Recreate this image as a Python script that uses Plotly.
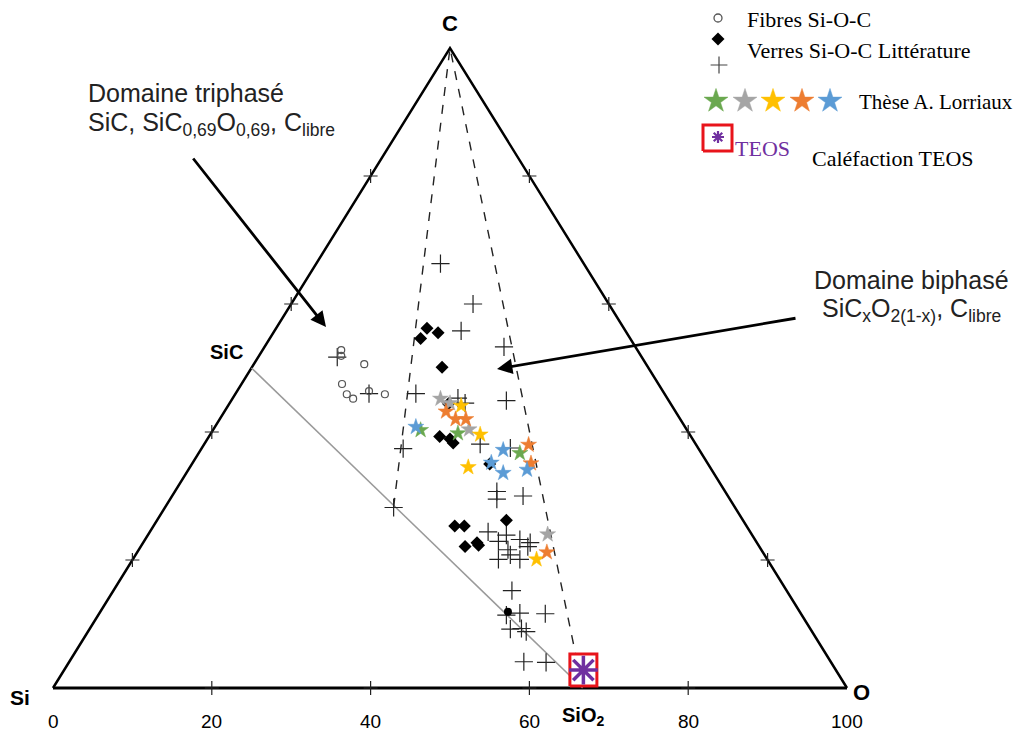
import plotly.graph_objects as go

# ---------------- data (x = position on the Si–O axis, 0..100 ; c = % C) -------------
tick_values = [0, 20, 40, 60, 80, 100]

fibres_x = [36.3, 36.3, 39.2, 36.4, 37.0, 37.8, 39.8, 41.8]
fibres_c = [52.8, 51.9, 50.6, 47.5, 45.9, 45.2, 46.4, 45.9]

verres_x = [47.1, 46.3, 48.5, 49.0, 49.8, 48.7, 50.0, 50.4, 55.0, 57.1, 50.6, 51.8, 51.9, 53.4, 53.6]
verres_c = [56.2, 54.6, 55.5, 50.1, 44.4, 39.3, 38.9, 38.3, 35.0, 26.2, 25.3, 25.3, 22.1, 22.7, 22.3]

dot_x = [57.3]
dot_c = [11.9]

lit_x = [48.8, 52.9, 51.4, 56.8, 35.8, 39.8, 45.7, 51.0, 51.9, 57.1, 53.8, 44.1, 57.6,
         55.9, 55.9, 59.2, 42.9, 54.8, 56.1, 57.1, 58.8, 60.1, 57.3, 59.8, 56.1, 57.6,
         58.8, 57.8, 57.1, 58.8, 62.0, 57.6, 59.0, 59.6, 59.3, 62.1]
lit_c = [66.3, 60.0, 55.8, 53.3, 51.7, 46.0, 46.0, 45.3, 44.5, 44.9, 38.1, 37.4, 37.5,
         30.7, 29.5, 30.0, 28.2, 24.4, 22.9, 23.9, 23.2, 22.7, 21.6, 22.1, 20.1, 20.8,
         20.1, 15.2, 11.4, 11.7, 11.6, 9.2, 9.3, 8.8, 4.1, 4.0]

stars_green_x = [46.3, 51.0, 58.8]
stars_green_c = [40.3, 39.8, 36.7]
stars_gray_x = [48.8, 50.0, 52.4, 62.3]
stars_gray_c = [45.2, 44.5, 40.4, 24.0]
stars_yellow_x = [51.4, 53.8, 52.3, 60.9]
stars_yellow_c = [44.1, 39.6, 34.5, 20.1]
stars_orange_x = [49.5, 50.7, 52.0, 59.9, 60.2, 62.2]
stars_orange_c = [43.2, 42.0, 42.0, 38.0, 35.1, 21.2]
stars_blue_x = [45.7, 56.7, 55.2, 56.7, 59.7]
stars_blue_c = [40.8, 37.2, 35.2, 33.6, 34.1]

teos_x = [66.8]
teos_c = [2.8]

# reference compositions (x, c)
corner_si = (0, 0)
corner_o = (100, 0)
corner_c = (50, 100)
pt_sic = (25, 50)
pt_sio2 = (66.7, 0)
pt_sico = (42.9, 28.3)

# ---------------- layout helpers (page pixel <-> diagram units) ----------------
PAGE_W, PAGE_H = 1025, 736
BODY = 8                      # default page margin around the plot div
W, H = PAGE_W - BODY, PAGE_H - BODY
PX0, PXU = 53.0, 7.94     # page pixel of x=0 and pixels per x unit
PY0, PYU = 688.0, 6.4     # page pixel of c=0 and pixels per c unit


def dx(px):
    return (px - PX0) / PXU


def dy(py):
    return (PY0 - py) / PYU


COL_GREEN, COL_GRAY, COL_YELLOW, COL_ORANGE, COL_BLUE = "#6aa84f", "#a5a5a5", "#ffc000", "#ed7d31", "#5b9bd5"
PURPLE = "#7030a0"
RED = "#e8141b"
SERIF = "Liberation Serif, Times New Roman, serif"
SANS = "Liberation Sans, Arial, sans-serif"
NARROW = "Liberation Sans Narrow, Arial Narrow, Liberation Sans, sans-serif"

fig = go.Figure()

# triangle
fig.add_trace(go.Scatter(x=[corner_si[0], corner_c[0], corner_o[0]], y=[corner_si[1], corner_c[1], corner_o[1]],
                         mode="lines", line=dict(color="black", width=2.5), hoverinfo="skip"))
fig.add_trace(go.Scatter(x=[corner_si[0], corner_o[0]], y=[corner_si[1], corner_o[1]],
                         mode="lines", line=dict(color="black", width=3.2), hoverinfo="skip"))
# SiC - SiO2 grey line
fig.add_trace(go.Scatter(x=[pt_sic[0], pt_sio2[0]], y=[pt_sic[1], pt_sio2[1]],
                         mode="lines", line=dict(color="#9a9a9a", width=1.5), hoverinfo="skip"))
# dashed domain
fig.add_trace(go.Scatter(x=[pt_sico[0], corner_c[0], pt_sio2[0]], y=[pt_sico[1], corner_c[1], pt_sio2[1]],
                         mode="lines", line=dict(color="#222", width=1.4, dash="dash"), hoverinfo="skip"))

# edge ticks
tx, ty = [], []
for v in tick_values[1:-1]:
    tx += [v, v / 2, 100 - v / 2]
    ty += [0, v, v]
fig.add_trace(go.Scatter(x=tx, y=ty, mode="markers",
                         marker=dict(symbol="cross-thin", size=10, line=dict(color="#222", width=1.2))))

# data
fig.add_trace(go.Scatter(x=lit_x, y=lit_c, mode="markers",
                         marker=dict(symbol="cross-thin", size=13, line=dict(color="#222", width=1.2))))
fig.add_trace(go.Scatter(x=fibres_x, y=fibres_c, mode="markers",
                         marker=dict(symbol="circle-open", size=7, color="#555", line=dict(width=1.2))))
fig.add_trace(go.Scatter(x=verres_x, y=verres_c, mode="markers",
                         marker=dict(symbol="diamond", size=10, color="black")))
fig.add_trace(go.Scatter(x=dot_x, y=dot_c, mode="markers",
                         marker=dict(symbol="circle", size=8, color="black")))
for sx, sc, col in [(stars_green_x, stars_green_c, COL_GREEN), (stars_gray_x, stars_gray_c, COL_GRAY),
                    (stars_yellow_x, stars_yellow_c, COL_YELLOW), (stars_orange_x, stars_orange_c, COL_ORANGE),
                    (stars_blue_x, stars_blue_c, COL_BLUE)]:
    fig.add_trace(go.Scatter(x=sx, y=sc, mode="markers",
                             marker=dict(symbol="star", size=12, color=col, line=dict(color=col, width=0.5))))

# TEOS red box + asterisk
bx = [teos_x[0] - 13.5 / PXU, teos_x[0] + 13.5 / PXU]
by = [teos_c[0] - 16 / PYU, teos_c[0] + 16 / PYU]
fig.add_trace(go.Scatter(x=[bx[0], bx[1], bx[1], bx[0], bx[0]], y=[by[0], by[0], by[1], by[1], by[0]],
                         mode="lines", fill="toself", fillcolor="white", line=dict(color=RED, width=3)))
fig.add_trace(go.Scatter(x=teos_x, y=teos_c, mode="markers",
                         marker=dict(symbol="asterisk-open", size=24, color=PURPLE,
                                     line=dict(color=PURPLE, width=3.5))))

# ---------------- legend (manual) ----------------
fig.add_trace(go.Scatter(x=[dx(718)], y=[dy(18)], mode="markers",
                         marker=dict(symbol="circle-open", size=8, color="#555", line=dict(width=1.3))))
fig.add_trace(go.Scatter(x=[dx(718)], y=[dy(39)], mode="markers",
                         marker=dict(symbol="diamond", size=10, color="black")))
fig.add_trace(go.Scatter(x=[dx(719)], y=[dy(65)], mode="markers",
                         marker=dict(symbol="cross-thin", size=12, line=dict(color="#444", width=1.2))))
for px, col in zip([716, 745, 773, 802, 830], [COL_GREEN, COL_GRAY, COL_YELLOW, COL_ORANGE, COL_BLUE]):
    fig.add_trace(go.Scatter(x=[dx(px)], y=[dy(101)], mode="markers",
                             marker=dict(symbol="star", size=18, color=col, line=dict(color=col, width=0.5))))
lb = [dx(703), dx(732)]
lby = [dy(151), dy(125)]
fig.add_trace(go.Scatter(x=[lb[0], lb[1], lb[1], lb[0], lb[0]], y=[lby[0], lby[0], lby[1], lby[1], lby[0]],
                         mode="lines", line=dict(color=RED, width=3)))
fig.add_trace(go.Scatter(x=[dx(718)], y=[dy(137)], mode="markers",
                         marker=dict(symbol="asterisk-open", size=10, color=PURPLE,
                                     line=dict(color=PURPLE, width=2.2))))

annotations = []


def txt(px, py, text, size, family=SANS, color="black", xanchor="left", bold=False):
    if bold:
        text = "<b>" + text + "</b>"
    annotations.append(dict(x=dx(px), y=dy(py), xref="x", yref="y", text=text, showarrow=False,
                            xanchor=xanchor, yanchor="middle",
                            font=dict(family=family, size=size, color=color)))


txt(745, 19, "Fibres Si-O-C", 22, SERIF)
txt(745, 50, "Verres Si-O-C Littérature", 22, SERIF)
txt(857, 102, "Thèse A. Lorriaux", 21, SERIF)
txt(733, 148, "TEOS", 22, SERIF, color=PURPLE)
txt(810, 158, "Caléfaction TEOS", 22, SERIF)

# vertex labels
txt(450, 23, "C", 22, SANS, xanchor="center", bold=True)
txt(226, 352, "SiC", 20, SANS, xanchor="center", bold=True)
txt(20, 697, "Si", 21, SANS, xanchor="center", bold=True)
txt(861, 692, "O", 22, SANS, xanchor="center", bold=True)
txt(583, 716, "SiO<sub>2</sub>", 20, SANS, xanchor="center", bold=True)

# bottom tick labels
for v in tick_values:
    annotations.append(dict(x=v, y=dy(721), xref="x", yref="y", text=str(v), showarrow=False,
                            xanchor="center", yanchor="middle",
                            font=dict(family=NARROW, size=19, color="black")))

# domain texts
txt(86, 93, "Domaine triphasé", 25, SANS, color="#222")
txt(86, 124, "SiC, SiC<sub>0,69</sub>O<sub>0,69</sub>, C<sub>libre</sub>", 25, SANS, color="#222")
txt(911, 280, "Domaine biphasé", 25, SANS, color="#222", xanchor="center")
txt(911, 310, "SiC<sub>x</sub>O<sub>2(1-x)</sub>, C<sub>libre</sub>", 25, SANS, color="#222", xanchor="center")

# arrows
annotations.append(dict(x=dx(326), y=dy(327), xref="x", yref="y", ax=-134, ay=-170, text="",
                        showarrow=True, arrowhead=2, arrowsize=1.1, arrowwidth=2.8, arrowcolor="black"))
annotations.append(dict(x=dx(497), y=dy(369), xref="x", yref="y", ax=300, ay=-51, text="",
                        showarrow=True, arrowhead=2, arrowsize=1.1, arrowwidth=2.8, arrowcolor="black"))

fig.update_layout(
    width=W, height=H, autosize=False,
    margin=dict(l=0, r=0, t=0, b=0),
    paper_bgcolor="white", plot_bgcolor="white",
    showlegend=False,
    xaxis=dict(range=[dx(BODY), dx(PAGE_W)], visible=False, fixedrange=True),
    yaxis=dict(range=[dy(PAGE_H), dy(BODY)], visible=False, fixedrange=True),
    annotations=annotations,
)

fig.write_html("out.html")
